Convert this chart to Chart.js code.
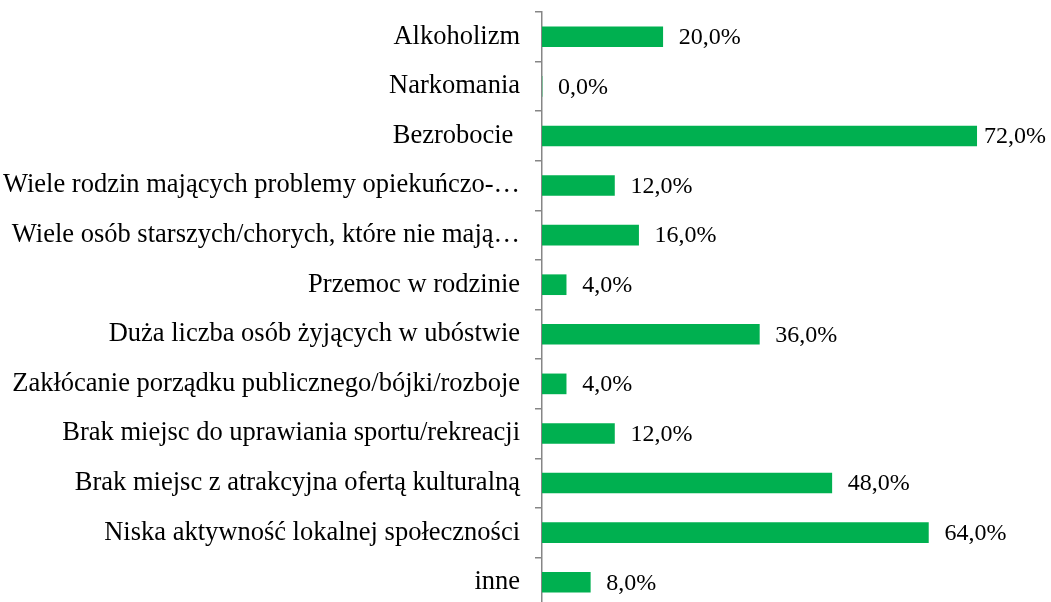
<!DOCTYPE html>
<html lang="pl">
<head>
  <meta charset="UTF-8">
  <title>Problemy społeczne</title>
  <script src="https://cdn.jsdelivr.net/npm/chart.js"></script>
  <style>
    html, body { margin: 0; padding: 0; background: #fff; overflow: hidden; }
    #wrap { position: relative; width: 1051px; height: 607px; }
  </style>
</head>
<body>
  <div id="wrap"><canvas id="chart"></canvas></div>
  <script>
    // category labels (as shown, including truncated ones)
    const categories = [
      'Alkoholizm',
      'Narkomania',
      'Bezrobocie ',
      'Wiele rodzin mających problemy opiekuńczo-…',
      'Wiele osób starszych/chorych, które nie mają…',
      'Przemoc w rodzinie',
      'Duża liczba osób żyjących w ubóstwie',
      'Zakłócanie porządku publicznego/bójki/rozboje',
      'Brak miejsc do uprawiania sportu/rekreacji',
      'Brak miejsc z atrakcyjna ofertą kulturalną',
      'Niska aktywność lokalnej społeczności',
      'inne'
    ];
    // percentages
    const values = [20, 0, 72, 12, 16, 4, 36, 4, 12, 48, 64, 8];

    const fontFamily = '"Liberation Serif", "DejaVu Serif", serif';

    // draws "20,0%" style labels to the right of each bar
    const valueLabels = {
      id: 'valueLabels',
      afterDatasetsDraw(chart) {
        const ctx = chart.ctx;
        const meta = chart.getDatasetMeta(0);
        ctx.save();
        ctx.font = '24px ' + fontFamily;
        ctx.fillStyle = '#000';
        ctx.textAlign = 'left';
        ctx.textBaseline = 'middle';
        meta.data.forEach((bar, i) => {
          const txt = values[i].toFixed(1).replace('.', ',') + '%';
          let x = bar.x + 16;
          const w = ctx.measureText(txt).width;
          if (x + w > chart.width - 5) x = chart.width - 5 - w; // keep inside, like excel does
          ctx.fillText(txt, x, bar.y + 1);
        });
        ctx.restore();
      }
    };

    new Chart(document.getElementById('chart'), {
      type: 'bar',
      data: {
        labels: categories,
        datasets: [{
          data: values,
          backgroundColor: '#00B050',
          borderWidth: 0,
          barThickness: 20
        }]
      },
      options: {
        indexAxis: 'y',
        responsive: true,
        maintainAspectRatio: false,
        animation: false,
        layout: { padding: { top: 12, right: 26, bottom: 0, left: 0 } },
        plugins: {
          legend: { display: false },
          tooltip: { enabled: false }
        },
        scales: {
          x: { display: false, min: 0, max: 80 },
          y: {
            afterFit(scale) {
              scale.width = 542;
              scale.paddingTop = 0;
              scale.paddingBottom = 0;
            },
            border: { color: '#868686', width: 1.5 },
            grid: {
              drawOnChartArea: false,
              drawTicks: true,
              tickLength: 7,
              color: '#868686',
              lineWidth: 1.5
            },
            ticks: {
              color: '#000',
              padding: 15,
              font: { family: fontFamily, size: 26.5 }
            }
          }
        }
      },
      plugins: [valueLabels]
    });
  </script>
</body>
</html>
